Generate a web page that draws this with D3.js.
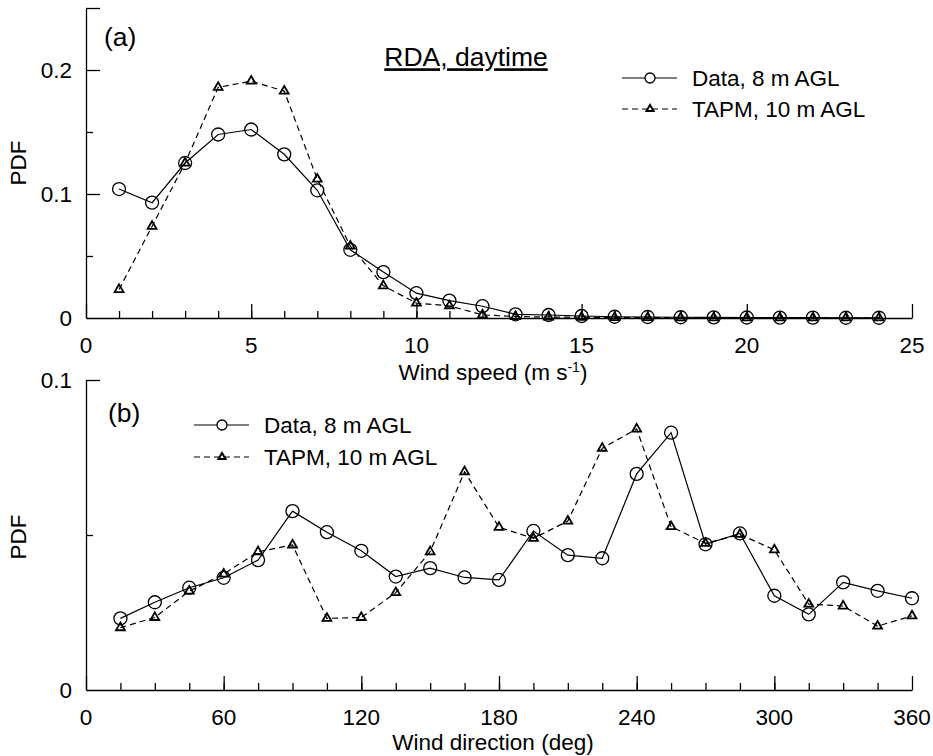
<!DOCTYPE html>
<html>
<head>
<meta charset="utf-8">
<script src="https://cdn.jsdelivr.net/npm/d3@7"></script>
<style>
body{margin:0;background:#fff;}
svg text{font-family:"Liberation Sans",Arial,sans-serif;font-size:22.5px;fill:#000;}
.axis path,.axis line{stroke:#000;stroke-width:1.3;}
</style>
</head>
<body>
<div id="chart"></div>
<script>
var w = 933, h = 756;

// panel (a): wind speed PDF
var speedBins = [1,2,3,4,5,6,7,8,9,10,11,12,13,14,15,16,17,18,19,20,21,22,23,24];
var speedData = [0.104,0.093,0.125,0.148,0.152,0.132,0.103,0.055,0.037,0.020,0.014,0.0095,0.003,0.0024,0.0016,0.001,0.0008,0.0006,0.0005,0.0004,0.0003,0.0003,0.0002,0.0002];
var speedTapm = [0.023,0.074,0.125,0.186,0.191,0.183,0.112,0.058,0.026,0.012,0.0098,0.0025,0.0012,0.0008,0.0006,0.0004,0.0003,0.0002,0.0002,0.0001,0.0001,0.0001,0.0001,0.0001];

// panel (b): wind direction PDF
var dirBins = [15,30,45,60,75,90,105,120,135,150,165,180,195,210,225,240,255,270,285,300,315,330,345,360];
var dirData = [0.0231,0.0283,0.0330,0.0362,0.0419,0.0577,0.0509,0.0449,0.0366,0.0393,0.0363,0.0355,0.0513,0.0435,0.0425,0.0697,0.0830,0.0470,0.0505,0.0304,0.0244,0.0347,0.0320,0.0296];
var dirTapm = [0.0201,0.0234,0.0319,0.0374,0.0446,0.0468,0.0231,0.0234,0.0314,0.0446,0.0704,0.0525,0.0489,0.0545,0.0780,0.0842,0.0527,0.0473,0.0502,0.0452,0.0277,0.0271,0.0206,0.0239];

var seriesNames = ["Data, 8 m AGL","TAPM, 10 m AGL"];

var left = 86, right = 912;
var svg = d3.select("#chart").append("svg").attr("width", w).attr("height", h);

// scales
var xSpeed = d3.scaleLinear().domain([0,25]).range([left,right]);
var ySpeed = d3.scaleLinear().domain([0,0.25]).range([318,8]);
var xDir = d3.scaleLinear().domain([0,360]).range([left,right]);
var yDir = d3.scaleLinear().domain([0,0.1]).range([690,380]);

function drawPanel(xs, ys, xMajor, xMinor, yMajor, yMinor, yLabels, xTickFmt){
  var y0 = ys.range()[0];
  // minor ticks first
  var gx = svg.append("g").attr("class","axis").attr("transform","translate(0,"+y0+")");
  gx.call(d3.axisTop(xs).tickValues(xMinor).tickSize(7).tickFormat(""));
  gx.select(".domain").remove();
  var gx2 = svg.append("g").attr("class","axis").attr("transform","translate(0,"+y0+")");
  gx2.call(d3.axisTop(xs).tickValues(xMajor).tickSize(14).tickSizeOuter(0).tickFormat(""));
  // x tick labels below
  svg.selectAll(null).data(xMajor).enter().append("text")
    .attr("x", function(d){ return xs(d); })
    .attr("y", y0+27)
    .attr("dy","0.35em")
    .style("text-anchor","middle")
    .text(xTickFmt);

  var gy = svg.append("g").attr("class","axis").attr("transform","translate("+left+",0)");
  gy.call(d3.axisRight(ys).tickValues(yMinor).tickSize(7).tickFormat(""));
  gy.select(".domain").remove();
  var gy2 = svg.append("g").attr("class","axis").attr("transform","translate("+left+",0)");
  gy2.call(d3.axisRight(ys).tickValues(yMajor).tickSize(14).tickSizeOuter(0).tickFormat(""));
  svg.selectAll(null).data(yLabels).enter().append("text")
    .attr("x", left-14)
    .attr("y", function(d){ return ys(d[0]); })
    .attr("dy","0.35em")
    .style("text-anchor","end")
    .text(function(d){ return d[1]; });
}

function drawSeries(xs, ys, bins, vals, dashed, marker){
  var line = d3.line().x(function(d,i){ return xs(bins[i]); }).y(function(d){ return ys(d); });
  svg.append("path").datum(vals)
    .attr("d", line)
    .attr("fill","none")
    .attr("stroke","#000")
    .attr("stroke-width",1.2)
    .attr("stroke-dasharray", dashed ? "6,4" : null);
  if(marker==="circle"){
    svg.selectAll(null).data(vals).enter().append("circle")
      .attr("cx", function(d,i){ return xs(bins[i]); })
      .attr("cy", function(d){ return ys(d); })
      .attr("r", 6.5)
      .attr("fill","none")
      .attr("stroke","#000")
      .attr("stroke-width",1.3);
  } else {
    var tri = d3.symbol().type(d3.symbolTriangle).size(34);
    svg.selectAll(null).data(vals).enter().append("path")
      .attr("d", tri)
      .attr("transform", function(d,i){ return "translate("+xs(bins[i])+","+ys(d)+")"; })
      .attr("fill","none")
      .attr("stroke","#000")
      .attr("stroke-width",1.8);
  }
}

function drawLegend(x0, yRow1, yRow2){
  var rows = [[yRow1,false,"circle"],[yRow2,true,"tri"]];
  rows.forEach(function(r,i){
    svg.append("line").attr("x1",x0).attr("x2",x0+55).attr("y1",r[0]).attr("y2",r[0])
      .attr("stroke","#000").attr("stroke-width",1.2)
      .attr("stroke-dasharray", r[1] ? "6,4" : null);
    if(r[2]==="circle"){
      svg.append("circle").attr("cx",x0+28).attr("cy",r[0]).attr("r",5)
        .attr("fill","#fff").attr("stroke","#000").attr("stroke-width",1.3);
    } else {
      svg.append("path").attr("d", d3.symbol().type(d3.symbolTriangle).size(22))
        .attr("transform","translate("+(x0+28)+","+r[0]+")")
        .attr("fill","#fff").attr("stroke","#000").attr("stroke-width",2);
    }
    svg.append("text").attr("x",x0+70).attr("y",r[0]).attr("dy","0.35em").text(seriesNames[i]);
  });
}

// panel (a)
drawPanel(xSpeed, ySpeed, [0,5,10,15,20,25], d3.range(1,25),
  [0.1,0.2,0.25], [0.05,0.15],
  [[0,"0"],[0.1,"0.1"],[0.2,"0.2"]], function(d){ return d; });
drawSeries(xSpeed, ySpeed, speedBins, speedData, false, "circle");
drawSeries(xSpeed, ySpeed, speedBins, speedTapm, true, "tri");
drawLegend(622, 78, 109);

svg.append("text").attr("x",104).attr("y",37).attr("dy","0.35em").style("font-size","26.5px").text("(a)");
svg.append("text").attr("x",466).attr("y",57).attr("dy","0.35em").style("font-size","26.5px")
  .style("text-anchor","middle").style("text-decoration","underline").text("RDA, daytime");
svg.append("text").attr("transform","translate(26,163) rotate(-90)")
  .style("text-anchor","middle").text("PDF");
var xl = svg.append("text").attr("x",493).attr("y",372).attr("dy","0.35em").style("text-anchor","middle");
xl.append("tspan").text("Wind speed (m s");
xl.append("tspan").attr("dy","-8").style("font-size","14px").text("-1");
xl.append("tspan").attr("dy","8").text(")");

// panel (b)
drawPanel(xDir, yDir, [0,60,120,180,240,300,360], d3.range(15,360,15),
  [0.1], [0.05],
  [[0,"0"],[0.1,"0.1"]], function(d){ return d; });
drawSeries(xDir, yDir, dirBins, dirData, false, "circle");
drawSeries(xDir, yDir, dirBins, dirTapm, true, "tri");
drawLegend(194, 425, 457);

svg.append("text").attr("x",108).attr("y",413).attr("dy","0.35em").style("font-size","26.5px").text("(b)");
svg.append("text").attr("transform","translate(26,537) rotate(-90)")
  .style("text-anchor","middle").text("PDF");
svg.append("text").attr("x",493).attr("y",742).attr("dy","0.35em")
  .style("text-anchor","middle").text("Wind direction (deg)");
</script>
</body>
</html>
